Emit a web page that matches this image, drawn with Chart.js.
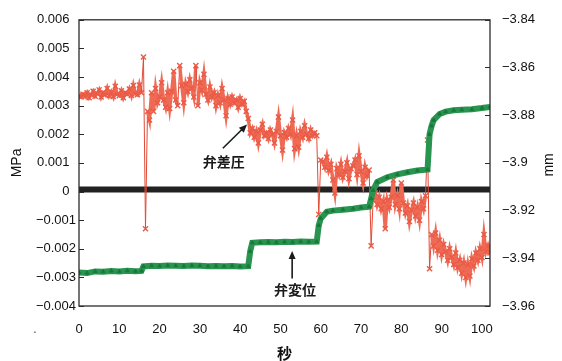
<!DOCTYPE html>
<html><head><meta charset="utf-8">
<script src="https://cdn.jsdelivr.net/npm/chart.js@4.4.0/dist/chart.umd.min.js"></script>
<style>html,body{margin:0;padding:0;background:#fff;}#wrap{width:562px;height:361px;position:relative;}</style>
</head><body><div id="wrap"><canvas id="c" width="562" height="361"></canvas></div>
<script>
// ---- data ----
// sample times (s) for 弁差圧
const pressureTime = [
0,0.5,1,1.5,2,2.5,3,3.5,4,4.5,
5,5.5,6,6.5,7,7.5,8,8.5,9,9.5,
10,10.5,11,11.5,12,12.5,13,13.5,14,14.5,
15,15.5,16,16.5,17,17.5,18,18.5,19,19.5,
20,20.5,21,21.5,22,22.5,23,23.5,24,24.5,
25,25.5,26,26.5,27,27.5,28,28.5,29,29.5,
30,30.5,31,31.5,32,32.5,33,33.5,34,34.5,
35,35.5,36,36.5,37,37.5,38,38.5,39,39.5,
40,40.5,41,41.5,42,42.5,43,43.5,44,44.5,
45,45.5,46,46.5,47,47.5,48,48.5,49,49.5,
50,50.5,51,51.5,52,52.5,53,53.5,54,54.5,
55,55.5,56,56.5,57,57.5,58,58.5,59,59.5,
60,60.5,61,61.5,62,62.5,63,63.5,64,64.5,
65,65.5,66,66.5,67,67.5,68,68.5,69,69.5,
70,70.5,71,71.5,72,72.5,73,73.5,74,74.5,
75,75.5,76,76.5,77,77.5,78,78.5,79,79.5,
80,80.5,81,81.5,82,82.5,83,83.5,84,84.5,
85,85.5,86,86.5,87,87.5,88,88.5,89,89.5,
90,90.5,91,91.5,92,92.5,93,93.5,94,94.5,
95,95.5,96,96.5,97,97.5,98,98.5,99,99.5,
100,100.5,101,101.5,102];
// 弁差圧 (MPa)
const valvePressure = [
0.00335,0.00330,0.00340,0.00332,0.00345,0.00328,0.00338,0.00350,0.00333,0.00342,
0.00355,0.00330,0.00345,0.00338,0.00360,0.00335,0.00348,0.00332,0.00368,0.00340,
0.00335,0.00352,0.00328,0.00345,0.00340,0.00358,0.00336,0.00370,0.00342,0.00338,
0.00372,0.00345,0.00470,-0.00130,0.00280,0.00250,0.00345,0.00280,0.00360,0.00310,
0.00330,0.00380,0.00320,0.00295,0.00345,0.00290,0.00350,0.00420,0.00320,0.00300,
0.00440,0.00370,0.00310,0.00375,0.00350,0.00390,0.00360,0.00330,0.00440,0.00300,
0.00380,0.00355,0.00410,0.00340,0.00320,0.00365,0.00330,0.00345,0.00300,0.00335,
0.00310,0.00360,0.00320,0.00265,0.00325,0.00305,0.00330,0.00310,0.00320,0.00295,
0.00325,0.00305,0.00315,0.00280,0.00255,0.00205,0.00220,0.00190,0.00210,0.00170,
0.00215,0.00235,0.00195,0.00205,0.00185,0.00215,0.00200,0.00170,0.00210,0.00260,
0.00195,0.00145,0.00205,0.00190,0.00220,0.00200,0.00250,0.00150,0.00195,0.00155,
0.00210,0.00190,0.00230,0.00200,0.00185,0.00215,0.00195,0.00205,0.00195,-0.00080,
0.00110,0.00105,0.00085,0.00120,0.00075,0.00095,0.00040,-0.00005,0.00080,0.00060,
0.00095,0.00050,0.00070,0.00100,0.00045,0.00080,0.00090,0.00110,0.00060,0.00125,
0.00070,0.00030,0.00085,0.00055,0.00075,-0.00190,-0.00030,-0.00005,-0.00045,-0.00020,
-0.00060,-0.00035,-0.00130,-0.00030,-0.00055,-0.00020,0.00040,-0.00045,-0.00015,-0.00060,
0.00030,-0.00040,-0.00075,-0.00050,-0.00105,-0.00065,-0.00040,-0.00085,-0.00055,-0.00100,
-0.00035,-0.00060,-0.00015,0.00180,-0.00270,-0.00150,-0.00190,-0.00145,-0.00205,-0.00170,
-0.00220,-0.00185,-0.00210,-0.00240,-0.00200,-0.00230,-0.00255,-0.00215,-0.00265,-0.00240,
-0.00285,-0.00250,-0.00300,-0.00255,-0.00295,-0.00235,-0.00260,-0.00215,-0.00240,-0.00200,
-0.00230,-0.00150,-0.00210,-0.00190,-0.00215];

// sample times (s) for 弁変位
const displacementTime = [0,2,4,6,8,10,12,14,15.5,16,18,20,22,24,26,28,30,32,34,36,38,40,42,42.5,43,45,47,49,51,53,55,57,59,59.5,60,61.5,63,65.5,68,70,72,72.5,73,74,76.5,79,81.5,84,86.5,87,87.5,88,89.5,91,93,95,97.5,100,102];
// 弁変位 (mm)
const valveDisplacement = [-3.9460,-3.9462,-3.9455,-3.9456,-3.9453,-3.9455,-3.9452,-3.9454,-3.9453,-3.9434,-3.9431,-3.9432,-3.9430,-3.9431,-3.9432,-3.9430,-3.9431,-3.9433,-3.9432,-3.9433,-3.9432,-3.9434,-3.9433,-3.9370,-3.9335,-3.9333,-3.9332,-3.9333,-3.9331,-3.9332,-3.9330,-3.9331,-3.9330,-3.9262,-3.9233,-3.9205,-3.9200,-3.9196,-3.9192,-3.9187,-3.9184,-3.9150,-3.9115,-3.9080,-3.9060,-3.9048,-3.9039,-3.9032,-3.9028,-3.8880,-3.8845,-3.8821,-3.8795,-3.8785,-3.8779,-3.8777,-3.8775,-3.8770,-3.8765];

// zero reference (black band)
const baselineTime = [0, 102];
const baselinePressure = [0.00007, 0.00007];

// tick labels
const xTicks = [0,10,20,30,40,50,60,70,80,90,100];
const mpaTicks = [-0.004,-0.003,-0.002,-0.001,0,0.001,0.002,0.003,0.004,0.005,0.006];
const mmTicks = [-3.96,-3.94,-3.92,-3.9,-3.88,-3.86,-3.84];

// annotations placed in data coordinates (time s, MPa)
const notes = [
  {text:'弁差圧', tx:35.9, ty:0.00104, from:[35.7,0.00151], to:[41.7,0.00234]},
  {text:'弁変位', tx:53.6, ty:-0.00343, from:[52.9,-0.00304], to:[52.9,-0.00208]}
];

const zip = (xs, ys) => xs.map((x,i)=>({x:x, y:ys[i]}));
const FONT = "'Liberation Sans', Arial, sans-serif";
const CJK = "'Noto Sans CJK JP', 'Noto Sans CJK SC', sans-serif";

const decor = {
  id:'decor',
  afterDatasetsDraw(chart){
    const {ctx, chartArea:a, scales} = chart;
    ctx.save();
    ctx.strokeStyle = '#2b2b2b';
    ctx.lineWidth = 1.3;
    ctx.strokeRect(a.left, a.top, a.right-a.left, a.bottom-a.top);
    ctx.lineWidth = 1.2;
    ctx.beginPath();
    mpaTicks.forEach(v=>{const y=Math.round(scales.y.getPixelForValue(v))+0.5; ctx.moveTo(a.left,y); ctx.lineTo(a.left+5,y);});
    mmTicks.forEach(v=>{const y=Math.round(scales.y2.getPixelForValue(v))+0.5; ctx.moveTo(a.right-5,y); ctx.lineTo(a.right,y);});
    ctx.stroke();
    // annotations
    ctx.fillStyle = '#1a1a1a';
    ctx.strokeStyle = '#1a1a1a';
    notes.forEach(n=>{
      const x1=scales.x.getPixelForValue(n.from[0]), y1=scales.y.getPixelForValue(n.from[1]);
      const x2=scales.x.getPixelForValue(n.to[0]), y2=scales.y.getPixelForValue(n.to[1]);
      const ang=Math.atan2(y2-y1,x2-x1);
      ctx.lineWidth=1.6;
      ctx.beginPath(); ctx.moveTo(x1,y1); ctx.lineTo(x2-5*Math.cos(ang),y2-5*Math.sin(ang)); ctx.stroke();
      ctx.beginPath();
      ctx.moveTo(x2,y2);
      ctx.lineTo(x2-8*Math.cos(ang)+3.5*Math.sin(ang), y2-8*Math.sin(ang)-3.5*Math.cos(ang));
      ctx.lineTo(x2-8*Math.cos(ang)-3.5*Math.sin(ang), y2-8*Math.sin(ang)+3.5*Math.cos(ang));
      ctx.closePath(); ctx.fill();
      ctx.font = "bold 14px "+CJK;
      ctx.textAlign='center'; ctx.textBaseline='middle';
      ctx.fillText(n.text, scales.x.getPixelForValue(n.tx), scales.y.getPixelForValue(n.ty));
    });
    ctx.restore();
  },
  afterDraw(chart){
    const {ctx, chartArea:a} = chart;
    ctx.save();
    ctx.fillStyle='#111';
    ctx.textAlign='center'; ctx.textBaseline='middle';
    ctx.font = "14px "+FONT;
    ctx.translate(17, (a.top+a.bottom)/2);
    ctx.rotate(-Math.PI/2);
    ctx.fillText('MPa', 0, 0);
    ctx.restore();
    ctx.save();
    ctx.fillStyle='#111';
    ctx.textAlign='center'; ctx.textBaseline='middle';
    ctx.font = "14px "+FONT;
    ctx.translate(549, (a.top+a.bottom)/2+2);
    ctx.rotate(-Math.PI/2);
    ctx.fillText('mm', 0, 0);
    ctx.restore();
    ctx.save();
    ctx.fillStyle='#111';
    ctx.textAlign='center'; ctx.textBaseline='middle';
    ctx.font = "bold 15px "+CJK;
    ctx.fillText('秒', (a.left+a.right)/2, 353);
    ctx.font = "12px "+FONT;
    ctx.fillStyle='#444';
    ctx.fillText('.', 35, 330);
    ctx.restore();
  }
};

const tickFont = {family: FONT, size: 13};
new Chart(document.getElementById('c'), {
  type:'line',
  data:{datasets:[
    {label:'弁変位', data: zip(displacementTime, valveDisplacement), yAxisID:'y2', order:1,
     borderColor:'#289450', borderWidth:6, pointStyle:'triangle', pointRadius:2.2,
     pointBackgroundColor:'#187a38', pointBorderColor:'#187a38', pointBorderWidth:1, tension:0},
    {label:'弁差圧', data: zip(pressureTime, valvePressure), yAxisID:'y', order:2,
     borderColor:'#ef6a55', borderWidth:3.4, pointStyle:'crossRot', pointRadius:3.6,
     pointBorderColor:'#ea5a45', pointBorderWidth:1.4, tension:0,
     segment:{
       borderWidth: c => Math.abs(c.p1.parsed.y - c.p0.parsed.y) > 0.0012 ? 1 : 3.4,
       borderColor: c => Math.abs(c.p1.parsed.y - c.p0.parsed.y) > 0.0012 ? '#e04a36' : '#ef6a55'
     }},
    {label:'基準', data: zip(baselineTime, baselinePressure), yAxisID:'y', order:3,
     borderColor:'#222222', borderWidth:6, pointRadius:0}
  ]},
  options:{
    responsive:false, animation:false, devicePixelRatio:1,
    layout:{padding:{top:15,left:0,right:0,bottom:0}},
    plugins:{legend:{display:false}, tooltip:{enabled:false}},
    scales:{
      x:{type:'linear', position:'bottom', min:0, max:102,
         grid:{display:false, drawTicks:false}, border:{display:false},
         afterBuildTicks: s=>{ s.ticks = xTicks.map(v=>({value:v})); },
         afterFit: s=>{ s.height = 55; },
         ticks:{font:tickFont, color:'#111', padding:16, maxRotation:0, autoSkip:false,
                callback: v=>String(v)}},
      y:{type:'linear', position:'left', min:-0.004, max:0.006,
         grid:{display:false, drawTicks:false}, border:{display:false},
         afterBuildTicks: s=>{ s.ticks = mpaTicks.map(v=>({value:v})); },
         afterFit: s=>{ s.width = 79; },
         ticks:{font:tickFont, color:'#111', padding:3, autoSkip:false,
                callback: v=>{ if (Math.abs(v)<1e-9) return '0\u2002'; return v<0 ? '\u2212'+Math.abs(v).toFixed(3) : v.toFixed(3)+'\u2002'; }}},
      y2:{type:'linear', position:'right', min:-3.96, max:-3.84,
         grid:{display:false, drawTicks:false}, border:{display:false},
         afterBuildTicks: s=>{ s.ticks = mmTicks.map(v=>({value:v})); },
         afterFit: s=>{ s.width = 72; },
         ticks:{font:tickFont, color:'#111', padding:12, autoSkip:false,
                callback: v=>String(Math.round(v*100)/100).replace('-','\u2212')}}
    }
  },
  plugins:[decor]
});
</script></body></html>
